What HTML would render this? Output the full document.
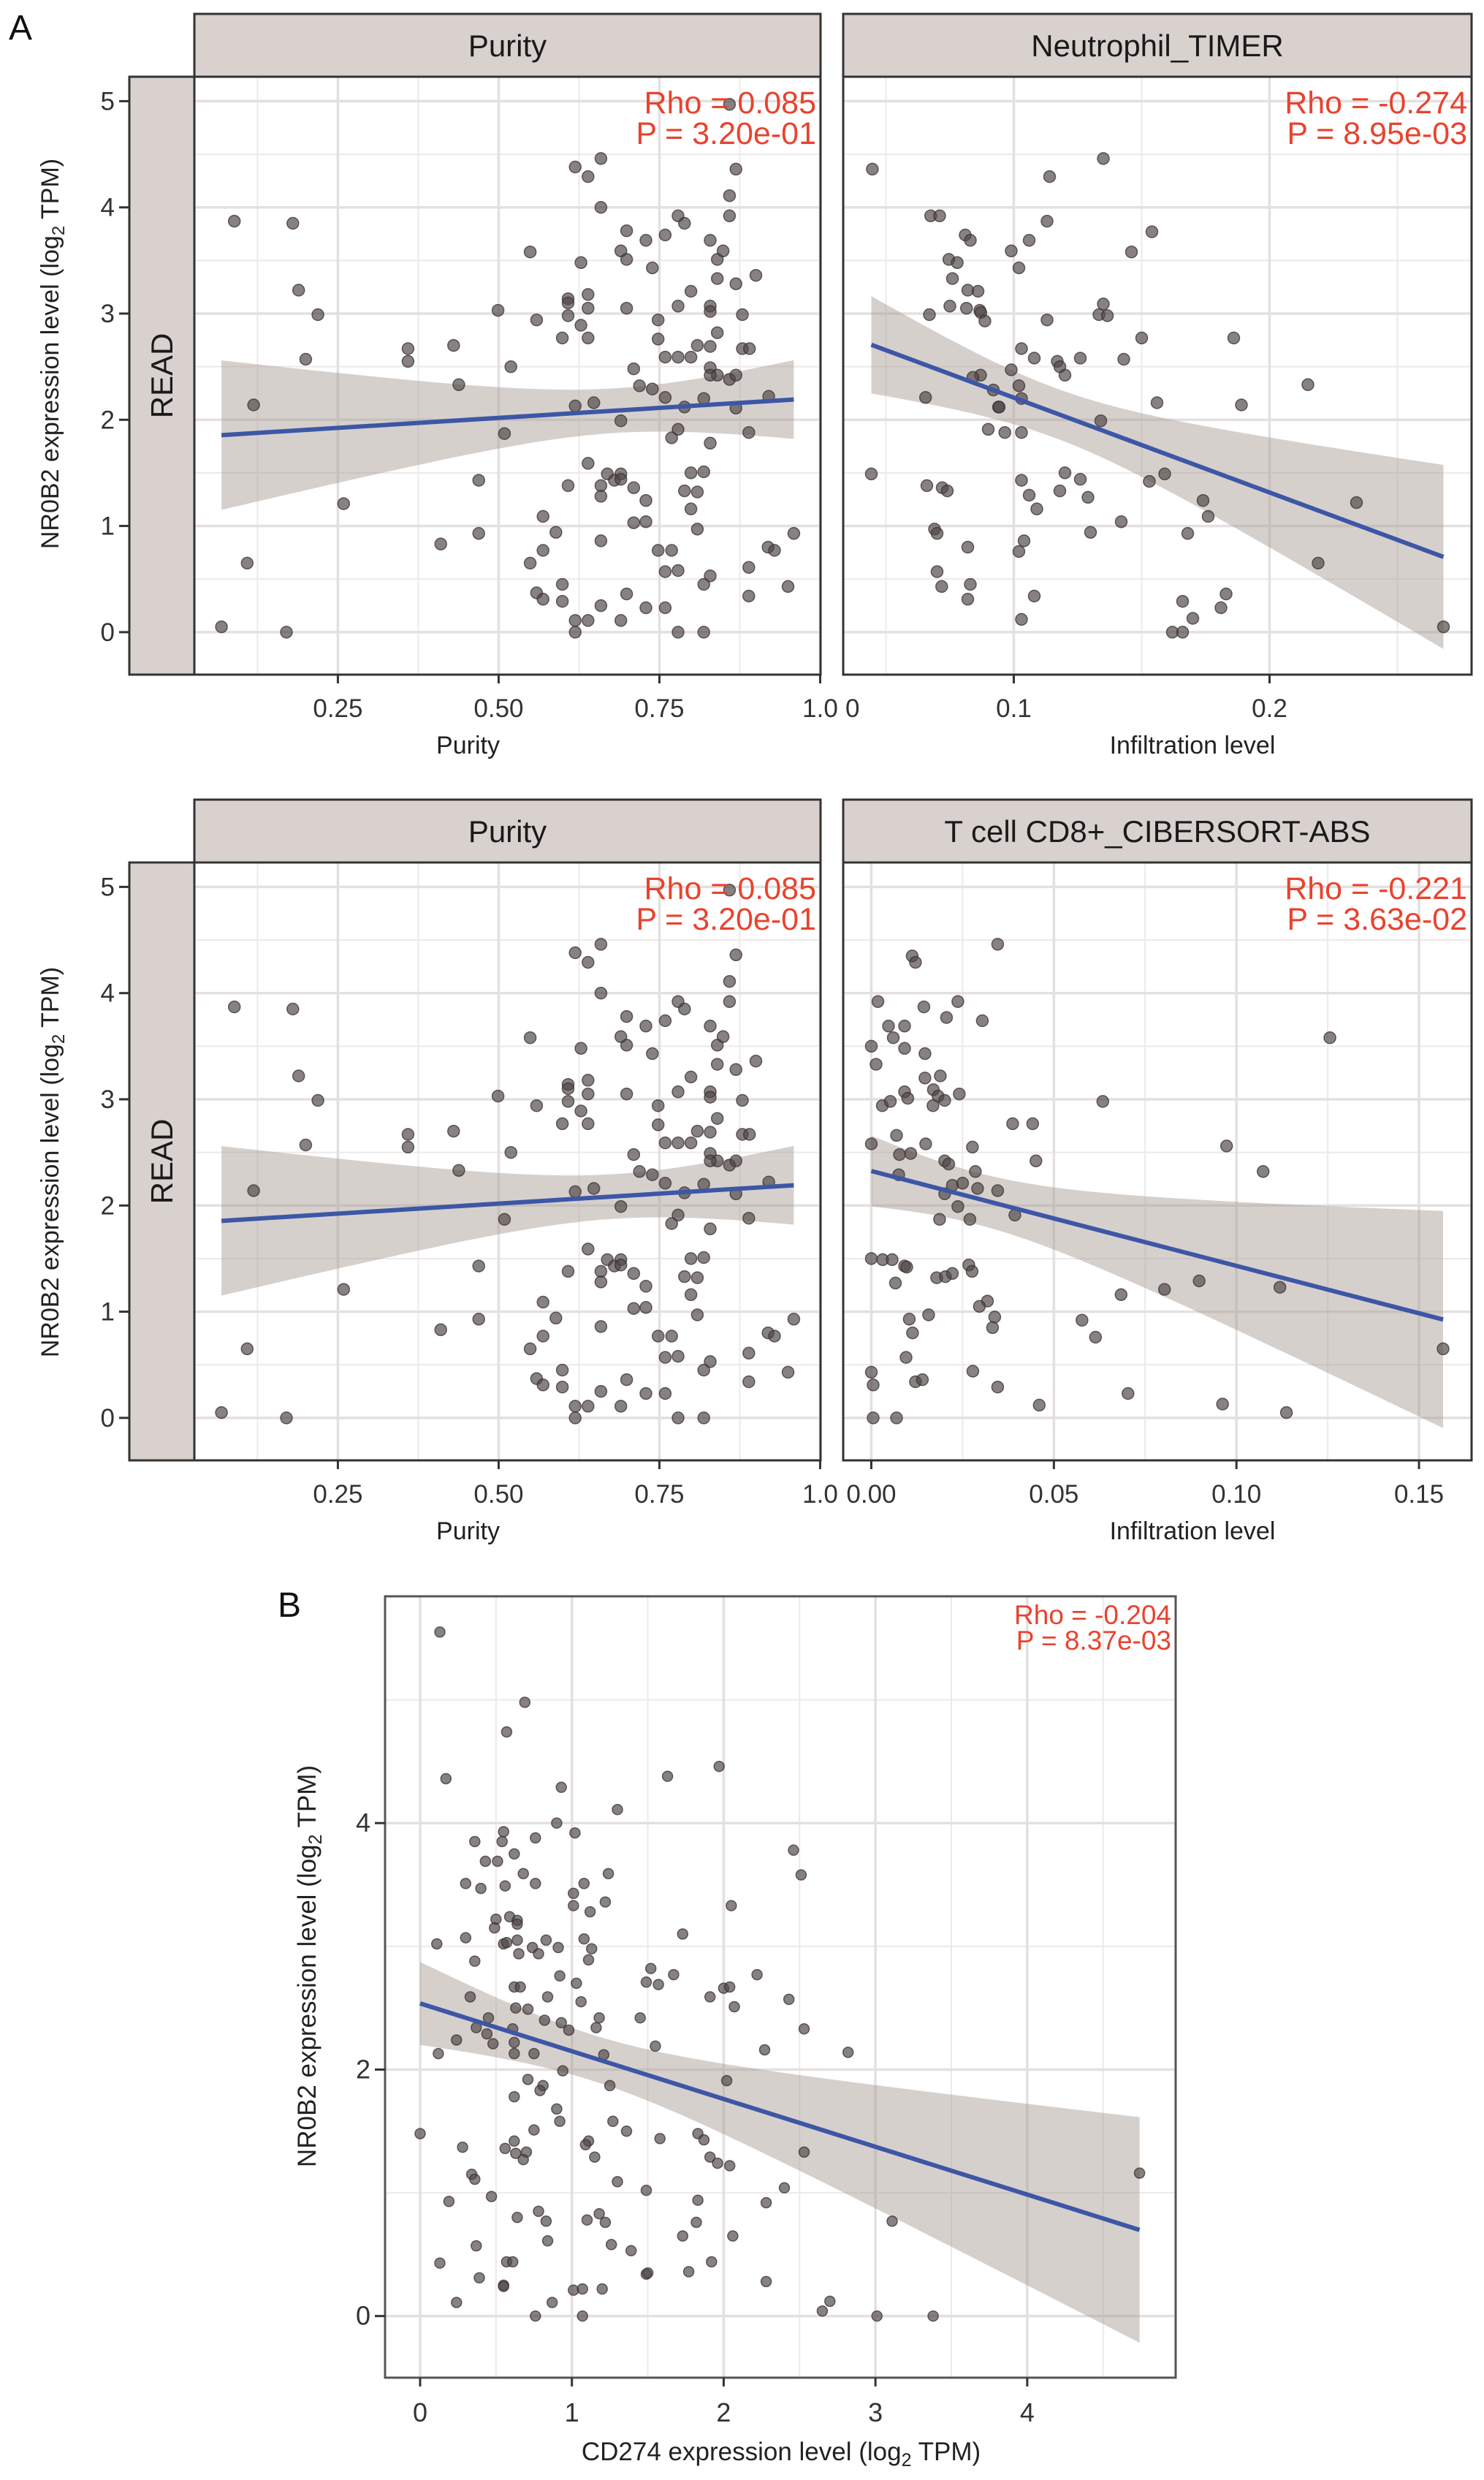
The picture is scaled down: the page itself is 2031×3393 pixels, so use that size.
<!DOCTYPE html>
<html><head><meta charset="utf-8"><style>
html,body{margin:0;padding:0;background:#fff;}
svg{display:block;font-family:"Liberation Sans",sans-serif;}
</style></head><body>
<svg id="fig" xmlns="http://www.w3.org/2000/svg" width="2031" height="3393" viewBox="0 0 2031 3393">
<text x="12" y="54" font-size="48" fill="#111">A</text>
<text x="380" y="2212" font-size="48" fill="#111">B</text>
<text transform="translate(80,484) rotate(-90)" text-anchor="middle" font-size="34" fill="#222">NR0B2 expression level (log<tspan font-size="24" dy="8">2</tspan><tspan dy="-8"> TPM)</tspan></text>
<text transform="translate(80,1590) rotate(-90)" text-anchor="middle" font-size="34" fill="#222">NR0B2 expression level (log<tspan font-size="24" dy="8">2</tspan><tspan dy="-8"> TPM)</tspan></text>
<text transform="translate(432,2690) rotate(-90)" text-anchor="middle" font-size="35" fill="#222">NR0B2 expression level (log<tspan font-size="25" dy="8">2</tspan><tspan dy="-8"> TPM)</tspan></text>
<text x="1069" y="3366" text-anchor="middle" font-size="35" fill="#222">CD274 expression level (log<tspan font-size="25" dy="8">2</tspan><tspan dy="-8"> TPM)</tspan></text>
<g id="plots"></g>
</svg>
<script>
// Panel: Purity (rows 1 and 2)
const purityX = [0.089,0.18,0.189,0.219,0.200,0.119,0.109,0.069,0.170,0.259,0.359,0.359,0.430,0.438,0.469,0.469,0.410,0.499,0.519,0.509,0.549,0.559,0.569,0.589,0.569,0.549,0.559,0.569,0.599,0.599,0.599,0.608,0.608,0.608,0.628,0.639,0.639,0.639,0.628,0.619,0.639,0.659,0.659,0.619,0.648,0.639,0.608,0.659,0.659,0.669,0.680,0.690,0.690,0.659,0.619,0.639,0.619,0.659,0.690,0.699,0.690,0.710,0.719,0.739,0.699,0.699,0.690,0.699,0.729,0.739,0.748,0.748,0.759,0.779,0.799,0.759,0.710,0.729,0.710,0.729,0.748,0.769,0.759,0.779,0.729,0.759,0.779,0.819,0.759,0.779,0.789,0.779,0.799,0.809,0.829,0.840,0.829,0.829,0.829,0.840,0.849,0.840,0.869,0.859,0.859,0.869,0.859,0.879,0.900,0.879,0.890,0.829,0.840,0.829,0.859,0.869,0.819,0.789,0.869,0.920,0.779,0.769,0.829,0.889,0.799,0.819,0.789,0.809,0.799,0.809,0.919,0.929,0.959,0.889,0.829,0.819,0.889,0.950];
const purityY = [3.87,3.85,3.22,2.99,2.57,2.14,0.65,0.05,0.00,1.21,2.67,2.55,2.70,2.33,1.43,0.93,0.83,3.03,2.50,1.87,3.58,2.94,1.09,0.94,0.77,0.65,0.37,0.31,0.45,0.29,2.77,3.14,3.10,2.98,2.89,2.77,3.05,3.18,3.48,4.38,4.29,4.46,4.00,2.13,2.16,1.59,1.38,1.38,1.28,1.49,1.43,1.49,1.44,0.86,0.11,0.11,0.00,0.25,0.11,0.36,1.99,2.48,2.32,2.29,3.05,3.51,3.59,3.78,3.69,3.43,2.94,2.76,2.59,2.59,2.59,2.21,1.36,1.24,1.03,1.04,0.77,0.77,0.57,0.58,0.23,0.23,0.00,0.00,3.74,3.92,3.85,3.07,3.21,2.70,2.69,2.82,3.07,3.02,3.69,3.51,3.59,3.33,3.28,3.92,4.11,4.36,4.97,2.99,3.36,2.67,2.67,2.49,2.42,2.42,2.38,2.42,2.20,2.12,2.11,2.22,1.91,1.83,1.78,1.88,1.50,1.51,1.33,1.32,1.16,0.97,0.80,0.77,0.93,0.61,0.53,0.45,0.34,0.43];
// Panel: Neutrophil_TIMER
const neutroX = [0.0447,0.0443,0.0675,0.071,0.081,0.083,0.0746,0.0779,0.076,0.082,0.086,0.075,0.0815,0.0867,0.0871,0.0887,0.067,0.0655,0.087,0.084,0.092,0.094,0.0943,0.090,0.0965,0.103,0.102,0.103,0.099,0.103,0.108,0.117,0.118,0.120,0.126,0.143,0.150,0.113,0.099,0.102,0.106,0.113,0.114,0.135,0.146,0.154,0.135,0.1333,0.1366,0.134,0.156,0.186,0.189,0.215,0.066,0.072,0.074,0.069,0.070,0.082,0.070,0.0718,0.083,0.082,0.103,0.106,0.109,0.118,0.120,0.126,0.129,0.130,0.142,0.104,0.102,0.108,0.103,0.153,0.159,0.174,0.176,0.168,0.166,0.170,0.162,0.166,0.181,0.183,0.234,0.219,0.268];
const neutroY = [4.36,1.49,3.92,3.92,3.74,3.69,3.51,3.48,3.33,3.22,3.21,3.07,3.05,3.03,3.01,2.93,2.99,2.21,2.42,2.40,2.28,2.12,2.12,1.91,1.88,1.88,2.32,2.20,2.47,2.67,2.58,2.55,2.50,2.42,2.58,2.57,2.77,2.94,3.59,3.43,3.69,3.87,4.29,4.46,3.58,3.77,3.09,2.99,2.98,1.99,2.16,2.77,2.14,2.33,1.38,1.36,1.33,0.97,0.93,0.80,0.57,0.43,0.45,0.31,1.43,1.29,1.16,1.33,1.50,1.44,1.27,0.94,1.04,0.86,0.76,0.34,0.12,1.42,1.49,1.24,1.09,0.93,0.29,0.13,0.00,0.00,0.23,0.36,1.22,0.65,0.05];
// Panel: T cell CD8+_CIBERSORT-ABS
const cd8X = [0.0346,0.0112,0.0121,0.0018,0.0144,0.0237,0.0206,0.0304,0.0047,0.006,0.0091,0.0,0.0091,0.0147,0.0013,0.0147,0.0189,0.017,0.0183,0.0201,0.0169,0.0241,0.0091,0.010,0.003,0.0052,0.0634,0.0387,0.0442,0.0069,0.0,0.0149,0.0277,0.0077,0.0108,0.0201,0.0212,0.0451,0.0285,0.0075,0.0973,0.1073,0.0222,0.025,0.0291,0.0346,0.0201,0.0237,0.0187,0.027,0.0393,0.0,0.0031,0.0057,0.0091,0.0097,0.0066,0.0179,0.0203,0.0222,0.0267,0.0276,0.0318,0.0296,0.0338,0.0332,0.0157,0.0104,0.0113,0.0095,0.0,0.0005,0.0121,0.014,0.0278,0.0346,0.0005,0.0069,0.046,0.0577,0.0614,0.0684,0.0703,0.0803,0.0898,0.0962,0.1119,0.1137,0.1256,0.1566];
const cd8Y = [4.46,4.35,4.29,3.92,3.87,3.92,3.77,3.74,3.69,3.58,3.69,3.50,3.48,3.43,3.33,3.20,3.22,3.09,3.03,2.99,2.94,3.05,3.07,3.01,2.94,2.98,2.98,2.77,2.77,2.66,2.58,2.58,2.55,2.48,2.49,2.42,2.39,2.42,2.32,2.29,2.56,2.32,2.19,2.21,2.16,2.14,2.11,1.99,1.87,1.87,1.91,1.50,1.49,1.49,1.43,1.42,1.27,1.32,1.33,1.36,1.44,1.38,1.10,1.05,0.95,0.85,0.97,0.93,0.80,0.57,0.43,0.31,0.34,0.36,0.44,0.29,0.00,0.00,0.12,0.92,0.76,1.16,0.23,1.21,1.29,0.13,1.23,0.05,3.58,0.65];
// Panel B: CD274 vs NR0B2
const cd274X = [0.13,0.69,0.57,0.17,0.93,1.63,1.97,1.30,0.90,1.02,0.36,0.55,0.54,0.76,0.62,0.43,0.51,0.68,1.24,0.30,0.40,0.56,0.76,1.08,1.01,1.01,1.12,1.22,2.46,2.51,2.05,0.50,0.49,0.59,0.64,0.64,0.30,0.11,0.55,0.57,0.64,0.74,0.78,0.83,0.91,1.08,1.13,1.11,1.73,0.65,0.36,0.92,1.03,1.52,1.49,1.57,1.67,2.22,2.00,2.04,1.91,2.07,2.43,0.62,0.66,0.33,0.84,1.06,0.63,0.71,0.45,0.82,0.93,1.18,1.16,1.45,0.37,0.44,0.61,0.62,0.48,0.24,0.12,0.62,0.75,0.98,1.21,1.55,2.27,2.53,2.82,0.94,2.02,0.71,0.81,0.79,1.25,0.62,0.90,0.92,1.27,1.36,0.00,0.75,0.62,0.56,0.63,0.70,0.68,0.28,1.11,1.09,1.15,1.58,1.83,1.87,1.91,1.96,2.04,2.53,0.34,0.36,1.30,1.49,2.40,4.74,0.47,0.19,1.83,2.28,0.64,0.78,0.83,1.10,1.18,1.22,1.82,1.73,2.06,3.11,0.84,0.37,1.26,1.39,0.13,0.57,0.61,1.92,1.77,1.49,1.50,0.39,0.55,0.55,2.28,1.01,1.07,1.20,0.24,0.87,0.76,1.07,2.65,2.70,3.01,3.38];
const nr0b2Y = [5.55,4.98,4.74,4.36,4.29,4.38,4.46,4.11,4.00,3.92,3.85,3.93,3.85,3.88,3.75,3.69,3.69,3.59,3.59,3.51,3.47,3.49,3.51,3.51,3.43,3.33,3.28,3.36,3.78,3.58,3.33,3.22,3.15,3.24,3.21,3.18,3.07,3.02,3.02,3.03,3.05,2.99,2.94,3.05,2.99,3.06,2.98,2.89,3.10,2.94,2.88,2.76,2.70,2.82,2.71,2.69,2.77,2.77,2.66,2.67,2.59,2.51,2.57,2.67,2.67,2.59,2.59,2.55,2.50,2.49,2.42,2.40,2.38,2.42,2.34,2.42,2.34,2.29,2.33,2.22,2.21,2.24,2.13,2.13,2.13,2.32,2.12,2.19,2.16,2.33,2.14,1.99,1.91,1.92,1.87,1.83,1.87,1.78,1.68,1.58,1.58,1.50,1.48,1.51,1.42,1.36,1.32,1.33,1.27,1.37,1.42,1.39,1.29,1.44,1.48,1.43,1.29,1.24,1.22,1.33,1.15,1.11,1.09,1.02,1.04,1.16,0.97,0.93,0.94,0.92,0.80,0.85,0.77,0.78,0.83,0.76,0.76,0.65,0.65,0.77,0.61,0.57,0.58,0.53,0.43,0.44,0.44,0.44,0.36,0.34,0.35,0.31,0.25,0.24,0.28,0.21,0.22,0.22,0.11,0.11,0.00,0.00,0.04,0.12,0.00,0.00];

const rowXTicks1 = ["0.25","0.50","0.75","1.0"];
const rowXTicks2 = ["0.1","0.2"];
const rowXTicks4 = ["0.00","0.05","0.10","0.15"];
const rowYTicks = ["0","1","2","3","4","5"];
const bXTicks = ["0","1","2","3","4"];
const bYTicks = ["0","2","4"];

const NS = "http://www.w3.org/2000/svg";
const root = document.getElementById("plots");
function mk(tag, attrs, parent) {
  const el = document.createElementNS(NS, tag);
  for (const k in attrs) el.setAttribute(k, attrs[k]);
  (parent || root).appendChild(el);
  return el;
}

function fit(xs, ys) {
  const n = xs.length;
  let xm = 0, ym = 0;
  for (let i = 0; i < n; i++) { xm += xs[i]; ym += ys[i]; }
  xm /= n; ym /= n;
  let sxx = 0, sxy = 0;
  for (let i = 0; i < n; i++) { sxx += (xs[i]-xm)*(xs[i]-xm); sxy += (xs[i]-xm)*(ys[i]-ym); }
  const b = sxy / sxx, a = ym - b * xm;
  let sse = 0;
  for (let i = 0; i < n; i++) { const r = ys[i] - (a + b*xs[i]); sse += r*r; }
  const s = Math.sqrt(sse / (n - 2));
  return { a, b, xm, sxx, s, n };
}

function drawPanel(o) {
  const g = mk("g", {});
  
  
  const sx = v => o.px[0] + (v - o.xv[0]) / (o.xv[1] - o.xv[0]) * (o.px[1] - o.px[0]);
  const sy = v => o.py[1] - (v - o.yv[0]) / (o.yv[1] - o.yv[0]) * (o.py[1] - o.py[0]);
  const bg = mk("rect", {x:o.px[0], y:o.py[0], width:o.px[1]-o.px[0], height:o.py[1]-o.py[0], fill:"#fff"}, g);
  
  
  o.xMinor.forEach(v => {
    const l = mk("line", {x1:sx(v), x2:sx(v), y1:o.py[0], y2:o.py[1], stroke:"#eee9e9", "stroke-width":2}, g);
    
    
  });
  o.yMinor.forEach(v => {
    const l = mk("line", {x1:o.px[0], x2:o.px[1], y1:sy(v), y2:sy(v), stroke:"#eee9e9", "stroke-width":2}, g);
    
    
  });
  o.xMajor.forEach(v => {
    const l = mk("line", {x1:sx(v), x2:sx(v), y1:o.py[0], y2:o.py[1], stroke:"#e4e0e0", "stroke-width":3.5}, g);
    
    
  });
  o.yMajor.forEach(v => {
    const l = mk("line", {x1:o.px[0], x2:o.px[1], y1:sy(v), y2:sy(v), stroke:"#e4e0e0", "stroke-width":3.5}, g);
    
    
  });
  const f = fit(o.xs, o.ys);
  const xmin = Math.min(...o.xs), xmax = Math.max(...o.xs);
  const up = [], lo = [];
  const N = 80;
  for (let i = 0; i <= N; i++) {
    const x = xmin + (xmax - xmin) * i / N;
    const yh = f.a + f.b * x;
    const se = f.s * Math.sqrt(1 / f.n + (x - f.xm) * (x - f.xm) / f.sxx) * 1.97;
    up.push(sx(x).toFixed(1) + "," + sy(yh + se).toFixed(1));
    lo.unshift(sx(x).toFixed(1) + "," + sy(yh - se).toFixed(1));
  }
  const band = mk("polygon", {points: up.concat(lo).join(" "), fill:"rgb(165,150,145)", "fill-opacity":0.45}, g);
  
  
  for (let i = 0; i < o.xs.length; i++) {
    const c = mk("circle", {cx:sx(o.xs[i]).toFixed(1), cy:sy(o.ys[i]).toFixed(1), r:o.r, fill:"rgba(80,70,70,0.68)", stroke:"rgba(55,50,50,0.75)", "stroke-width":1.5}, g);
    
    
  }
  const ln = mk("line", {x1:sx(xmin), y1:sy(f.a + f.b*xmin), x2:sx(xmax), y2:sy(f.a + f.b*xmax), stroke:"#3d56a6", "stroke-width":6}, g);
  
  
  const fr = mk("rect", {x:o.px[0], y:o.py[0], width:o.px[1]-o.px[0], height:o.py[1]-o.py[0], fill:"none", stroke:o.border, "stroke-width":3}, g);
  
  
  const t1 = mk("text", {x:o.px[1]-6, y:o.py[0]+o.statY[0], "text-anchor":"end", "font-size":o.statSize, fill:"#e8432f"}, g);
  t1.textContent = o.rho;
  
  
  const t2 = mk("text", {x:o.px[1]-6, y:o.py[0]+o.statY[1], "text-anchor":"end", "font-size":o.statSize, fill:"#e8432f"}, g);
  t2.textContent = o.pval;
  
  
  o.xTickVals.forEach((v, i) => {
    const tk = mk("line", {x1:sx(v), x2:sx(v), y1:o.py[1], y2:o.py[1]+12, stroke:"#333", "stroke-width":3}, g);
    
    
    const tl = mk("text", {x:sx(v), y:o.py[1]+o.xLabDy, "text-anchor":"middle", "font-size":o.tickSize, fill:"#333"}, g);
    tl.textContent = o.xTickLabels[i];
    
    
  });
  if (o.yTickVals) {
    o.yTickVals.forEach((v, i) => {
      const tk = mk("line", {x1:o.yAxisX-14, x2:o.yAxisX, y1:sy(v), y2:sy(v), stroke:"#333", "stroke-width":3}, g);
      
      
      const tl = mk("text", {x:o.yAxisX-20, y:sy(v)+12, "text-anchor":"end", "font-size":o.tickSize, fill:"#333"}, g);
      tl.textContent = o.yTickLabels[i];
      
      
    });
  }
  if (o.strip) {
    const s = mk("rect", {x:o.px[0], y:o.py[0]-86, width:o.px[1]-o.px[0], height:86, fill:"#d8d1ce", stroke:"#333", "stroke-width":3}, g);
    
    
    const st = mk("text", {x:(o.px[0]+o.px[1])/2, y:o.py[0]-28, "text-anchor":"middle", "font-size":42, fill:"#1a1a1a"}, g);
    st.textContent = o.strip;
    
    
  }
  if (o.xTitle) {
    const xt = mk("text", {x:(o.px[0]+o.px[1])/2 + (o.xTitleDx||0), y:o.py[1]+o.xTitleDy, "text-anchor":"middle", "font-size":34, fill:"#222"}, g);
    xt.textContent = o.xTitle;
    
    
  }
  return { sx, sy };
}

function readStrip(y0, y1) {
  const r = mk("rect", {x:177, y:y0, width:89, height:y1-y0, fill:"#d8d1ce", stroke:"#333", "stroke-width":3});
  
  
  const t = mk("text", {transform:"translate(236," + ((y0+y1)/2) + ") rotate(-90)", "text-anchor":"middle", "font-size":42, fill:"#1a1a1a"});
  t.textContent = "READ";
  
  
}

const rowYV = [-0.40, 5.23];
const common = {r:8, border:"#333", statSize:43, statY:[50,92], tickSize:35, xLabDy:58, xTitleDy:108};
readStrip(105, 923);
readStrip(1180, 1998);

drawPanel(Object.assign({}, common, {name:"panel-purity-row1", px:[266,1123], py:[105,923], xv:[0.0268,1.0006], yv:rowYV,
  xs:purityX, ys:purityY, xMajor:[0.25,0.5,0.75,1.0], xMinor:[0.125,0.375,0.625,0.875], yMajor:[0,1,2,3,4,5], yMinor:[0.5,1.5,2.5,3.5,4.5],
  rho:"Rho = 0.085", pval:"P = 3.20e-01", xTickVals:[0.25,0.5,0.75,1.0], xTickLabels:rowXTicks1,
  yTickVals:[0,1,2,3,4,5], yTickLabels:rowYTicks, yAxisX:177, strip:"Purity", xTitle:"Purity", xTitleDx:-54}));
drawPanel(Object.assign({}, common, {name:"panel-neutrophil", px:[1154,2014], py:[105,923], xv:[0.0333,0.279], yv:rowYV,
  xs:neutroX, ys:neutroY, xMajor:[0.1,0.2], xMinor:[0.05,0.15,0.25], yMajor:[0,1,2,3,4,5], yMinor:[0.5,1.5,2.5,3.5,4.5],
  rho:"Rho = -0.274", pval:"P = 8.95e-03", xTickVals:[0.1,0.2], xTickLabels:rowXTicks2,
  strip:"Neutrophil_TIMER", xTitle:"Infiltration level", xTitleDx:48}));
drawPanel(Object.assign({}, common, {name:"panel-purity-row2", px:[266,1123], py:[1180,1998], xv:[0.0268,1.0006], yv:rowYV,
  xs:purityX, ys:purityY, xMajor:[0.25,0.5,0.75,1.0], xMinor:[0.125,0.375,0.625,0.875], yMajor:[0,1,2,3,4,5], yMinor:[0.5,1.5,2.5,3.5,4.5],
  rho:"Rho = 0.085", pval:"P = 3.20e-01", xTickVals:[0.25,0.5,0.75,1.0], xTickLabels:rowXTicks1,
  yTickVals:[0,1,2,3,4,5], yTickLabels:rowYTicks, yAxisX:177, strip:"Purity", xTitle:"Purity", xTitleDx:-54}));
drawPanel(Object.assign({}, common, {name:"panel-cd8", px:[1154,2014], py:[1180,1998], xv:[-0.0077,0.1644], yv:rowYV,
  xs:cd8X, ys:cd8Y, xMajor:[0,0.05,0.1,0.15], xMinor:[0.025,0.075,0.125], yMajor:[0,1,2,3,4,5], yMinor:[0.5,1.5,2.5,3.5,4.5],
  rho:"Rho = -0.221", pval:"P = 3.63e-02", xTickVals:[0,0.05,0.1,0.15], xTickLabels:rowXTicks4,
  strip:"T cell CD8+_CIBERSORT-ABS", xTitle:"Infiltration level", xTitleDx:48}));

const z = mk("text", {x:1157, y:981, "font-size":35, fill:"#333"});
z.textContent = "0";



drawPanel({name:"panel-b-cd274", px:[527,1609], py:[2184,3253], xv:[-0.231,4.978], yv:[-0.50,5.84],
  xs:cd274X, ys:nr0b2Y, r:7, border:"#555", statSize:37, statY:[38,73], tickSize:36, xLabDy:60,
  xMajor:[0,1,2,3,4], xMinor:[0.5,1.5,2.5,3.5,4.5], yMajor:[0,2,4], yMinor:[1,3,5],
  rho:"Rho = -0.204", pval:"P = 8.37e-03", xTickVals:[0,1,2,3,4], xTickLabels:bXTicks,
  yTickVals:[0,2,4], yTickLabels:bYTicks, yAxisX:527});
</script>
</body></html>
